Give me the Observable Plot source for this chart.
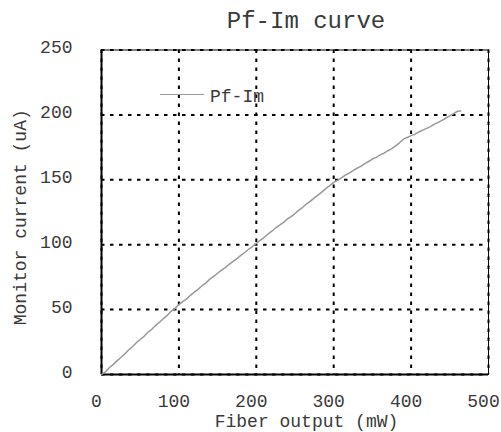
<!DOCTYPE html>
<html><head><meta charset="utf-8">
<script src="https://cdn.jsdelivr.net/npm/d3@7"></script>
<script src="https://cdn.jsdelivr.net/npm/@observablehq/plot@0.6"></script>
<style>
body{margin:0;background:#fff;}
#wrap{position:relative;width:501px;height:432px;font-family:"Liberation Mono","Courier New",monospace;color:#3a3a3a;}
#title{box-sizing:border-box;width:501px;height:40px;padding-left:111px;text-align:center;font-size:24px;line-height:44px;overflow:visible;white-space:nowrap;}
#legline{position:absolute;left:160px;top:94px;width:44px;height:0;border-top:1.5px solid #999;}
#legtext{position:absolute;left:210px;top:87px;font-size:18px;line-height:20px;}
svg{display:block;overflow:visible;}
</style>
</head><body>
<div id="wrap">
<div id="title">Pf-Im curve</div>
<div id="chart"></div>
<div id="legline"></div>
<div id="legtext">Pf-Im</div>
</div>
<script>
const power = [0,5,10,15,20,25,30,35,40,45,50,55,60,65,70,75,80,85,90,95,100,105,110,115,120,125,130,135,140,145,150,155,160,165,170,175,180,185,190,195,200,205,210,215,220,225,230,235,240,245,250,255,260,265,270,275,280,285,290,295,300,305,310,315,320,325,330,335,340,345,350,355,360,365,370,375,380,385,390,395,400,405,410,415,420,425,430,435,440,445,450,455,460,464];
const current = [0,2.0,5.2,7.6,10.5,13.1,15.8,18.9,21.4,24.5,27.0,29.4,32.6,34.8,37.9,40.3,43.1,45.6,48.7,51.0,53.8,56.1,58.2,61.0,63.5,65.8,68.4,70.6,73.5,75.6,78.0,80.4,82.3,84.9,87.1,89.2,91.8,94.0,96.5,98.6,101.0,103.4,105.5,108.2,110.4,112.9,115.1,117.0,119.8,121.6,124.0,126.6,128.8,131.5,133.6,136.1,138.4,140.7,143.4,145.5,148.0,149.6,151.5,153.6,155.2,157.0,158.9,160.4,162.5,164.1,166.0,167.3,169.2,170.5,172.4,174.0,176.2,178.5,181.3,182.6,184.0,185.2,186.8,188.3,189.6,191.0,192.9,194.2,195.8,197.6,199.3,201.0,202.8,203.0];
const xTicks = [0,100,200,300,400,500];
const yTicks = [0,50,100,150,200,250];
const xLabel = "Fiber output (mW)";
const yLabel = "Monitor current (uA)";

const data = power.map((p,i)=>({p, c: current[i]}));
const gridStyle = {stroke:"#000", strokeOpacity:1, strokeWidth:2, strokeDasharray:"3.5,5.5"};

const chart = Plot.plot({
  width: 501, height: 392,
  marginTop: 9.5, marginBottom: 58, marginLeft: 101, marginRight: 13,
  style: {fontFamily: "'Liberation Mono', monospace", fontSize: "18px", color: "#3a3a3a", background: "#fff", overflow: "visible"},
  x: {domain:[0,500], ticks: xTicks, label: null},
  y: {domain:[0,250], ticks: yTicks, label: null},
  marks: [
    Plot.frame({stroke:"#000", strokeWidth:1}),
    Plot.gridX(xTicks, gridStyle),
    Plot.gridY(yTicks, gridStyle),
    Plot.axisX({ticks: xTicks, tickSize: 0, tickPadding: 20, dx: -5, label: null, fontSize: 18}),
    Plot.axisY({ticks: yTicks, tickSize: 0, tickPadding: 29, dy: -2.5, label: null, fontSize: 18}),
    Plot.ruleX([0], {stroke:"#000", strokeWidth:2}),
    Plot.ruleY([0], {stroke:"#000", strokeWidth:2}),
    Plot.line(data, {x:"p", y:"c", stroke:"#999", strokeWidth:1.5}),
    Plot.text([xLabel], {frameAnchor:"bottom", textAnchor:"middle", dy: 40, dx: 11.5, lineAnchor:"top", fontSize:18, fill:"#3a3a3a"}),
    Plot.text([yLabel], {frameAnchor:"left", textAnchor:"middle", lineAnchor:"middle", rotate:-90, dx:-81, dy:5, fontSize:18, fill:"#3a3a3a"})
  ]
});
document.getElementById("chart").appendChild(chart);
</script>
</body></html>
